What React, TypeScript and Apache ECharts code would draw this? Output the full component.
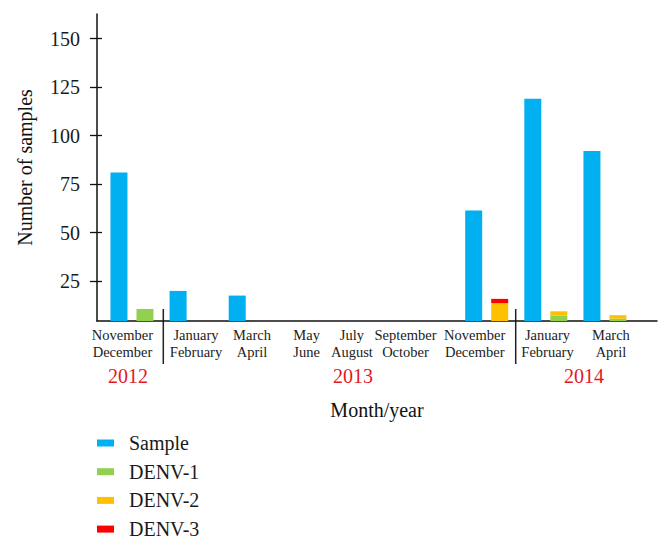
import React, { useEffect, useRef } from "react";
import * as echarts from "echarts";

const categories = [
  "November\nDecember",
  "January\nFebruary",
  "March\nApril",
  "May\nJune",
  "July\nAugust",
  "September\nOctober",
  "November\nDecember",
  "January\nFebruary",
  "March\nApril",
];
const sampleValues = [81, 20, 17.6, 0, 0, 0, 61.4, 119, 92.1];
const denv1Values = [10.7, 0, 0, 0, 0, 0, 0, 7.3, 5.7];
const denv2Values = [0, 0, 0, 0, 0, 0, 13.7, 2.2, 1.8];
const denv3Values = [0, 0, 0, 0, 0, 0, 2.2, 0, 0];
const yTickValues = [25, 50, 75, 100, 125, 150];
const yearLabels = ["2012", "2013", "2014"];

// label nudges (style only): horizontal shift of each category label, px
const labelShift = [-9.5, 4.9, 1.8, -2.7, -16.5, -22.1, -12, 1.7, 6];

const FONT = "'Liberation Serif', 'Times New Roman', serif";
const COLORS = {
  sample: "#00B0F0",
  denv1: "#92D050",
  denv2: "#FFC000",
  denv3: "#FF0000",
};

export default function App() {
  const ref = useRef<HTMLDivElement>(null);
  useEffect(() => {
    if (!ref.current) return;
    const chart = echarts.init(ref.current, null, { renderer: "svg" });
    const yMin = 4.5;
    const yMax = 162.7;
    const nullify = (arr: number[]) => arr.map((v) => (v === 0 ? null : v));
    const catData = categories.map((c, i) => {
      const d = labelShift[i];
      const pad = d < 0 ? [0, -2 * d, 0, 0] : [0, 0, 0, 2 * d];
      return { value: c, textStyle: { padding: pad } };
    });
    const option: any = {
      animation: false,
      textStyle: { fontFamily: FONT },
      grid: [
        { left: 102.4, right: 36.5, top: 14, bottom: 228 },
        { left: 97, right: 14, top: 14, bottom: 228 },
      ],
      legend: {
        orient: "vertical",
        left: 97,
        top: 433,
        padding: 0,
        itemWidth: 17,
        itemHeight: 7,
        itemGap: 8.7,
        icon: "rect",
        textStyle: {
          fontFamily: FONT,
          fontSize: 20,
          lineHeight: 20,
          color: "#1a1a1a",
          padding: [0, 0, 0, 10],
        },
        data: ["Sample", "DENV-1", "DENV-2", "DENV-3"],
      },
      xAxis: [
        {
          type: "category",
          gridIndex: 0,
          data: catData,
          axisLine: { show: false },
          axisTick: { show: false },
          axisLabel: {
            interval: 0,
            margin: 6,
            fontFamily: FONT,
            fontSize: 14.5,
            lineHeight: 16.7,
            color: "#222",
          },
        },
        {
          type: "value",
          gridIndex: 1,
          min: 0,
          max: 1,
          axisLine: { show: true, lineStyle: { color: "#111", width: 1.5 } },
          axisTick: { show: false },
          axisLabel: { show: false },
          splitLine: { show: false },
          name: "Month/year",
          nameLocation: "middle",
          nameGap: 79,
          nameTextStyle: { fontFamily: FONT, fontSize: 20, color: "#111" },
        },
      ],
      yAxis: [
        {
          type: "value",
          gridIndex: 0,
          min: yMin,
          max: yMax,
          show: false,
          splitLine: { show: false },
        },
        {
          type: "value",
          gridIndex: 1,
          position: "left",
          min: yMin,
          max: yMax,
          axisLine: { show: true, lineStyle: { color: "#111", width: 1.5 } },
          axisTick: {
            show: true,
            length: 7,
            customValues: yTickValues,
            lineStyle: { color: "#111", width: 1.3 },
          },
          axisLabel: {
            customValues: yTickValues,
            margin: 17,
            fontFamily: FONT,
            fontSize: 20,
            color: "#1a1a1a",
          },
          splitLine: { show: false },
          name: "Number of samples",
          nameLocation: "middle",
          nameGap: 62,
          nameTextStyle: { fontFamily: FONT, fontSize: 20, color: "#111" },
        },
        {
          type: "value",
          gridIndex: 1,
          position: "left",
          min: yMin,
          max: yMax,
          axisLine: { show: false },
          axisTick: {
            show: true,
            inside: true,
            length: 5,
            customValues: yTickValues,
            lineStyle: { color: "#111", width: 1.3 },
          },
          axisLabel: { show: false },
          splitLine: { show: false },
        },
      ],
      series: [
        {
          name: "Sample",
          type: "bar",
          xAxisIndex: 0,
          yAxisIndex: 0,
          barWidth: 17,
          barGap: "53%",
          itemStyle: { color: COLORS.sample },
          data: nullify(sampleValues),
        },
        {
          name: "DENV-1",
          type: "bar",
          stack: "denv",
          xAxisIndex: 0,
          yAxisIndex: 0,
          barWidth: 17,
          itemStyle: { color: COLORS.denv1 },
          data: nullify(denv1Values),
        },
        {
          name: "DENV-2",
          type: "bar",
          stack: "denv",
          xAxisIndex: 0,
          yAxisIndex: 0,
          barWidth: 17,
          itemStyle: { color: COLORS.denv2 },
          data: nullify(denv2Values),
        },
        {
          name: "DENV-3",
          type: "bar",
          stack: "denv",
          xAxisIndex: 0,
          yAxisIndex: 0,
          barWidth: 17,
          itemStyle: { color: COLORS.denv3 },
          data: nullify(denv3Values),
        },
      ],
      graphic: [
        {
          type: "line",
          shape: { x1: 163.3, y1: 309, x2: 163.3, y2: 364 },
          style: { stroke: "#222", lineWidth: 1.5 },
        },
        {
          type: "line",
          shape: { x1: 515.7, y1: 309, x2: 515.7, y2: 364 },
          style: { stroke: "#222", lineWidth: 1.5 },
        },
        ...yearLabels.map((t, i) => ({
          type: "text",
          x: [128, 353, 584][i],
          y: 376,
          style: {
            text: t,
            fontFamily: FONT,
            fontSize: 20,
            fill: "#E3171E",
            textAlign: "center",
            textVerticalAlign: "middle",
          },
        })),
      ],
    };
    chart.setOption(option);
    return () => chart.dispose();
  }, []);
  return (
    <div
      style={{
        position: "absolute",
        left: 0,
        top: 0,
        width: 671,
        height: 549,
        background: "#fff",
        overflow: "hidden",
      }}
    >
      <div ref={ref} style={{ width: 671, height: 549 }} />
      <div
        style={{
          position: "absolute",
          left: 0,
          top: 536,
          width: 671,
          height: 13,
          background: "#fff",
        }}
      />
    </div>
  );
}
